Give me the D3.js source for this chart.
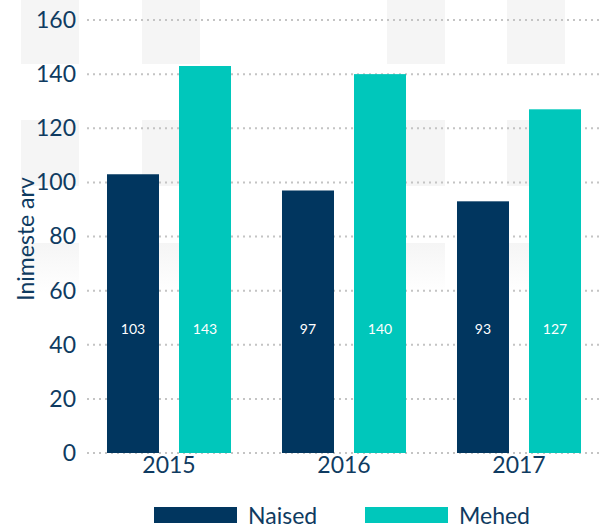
<!DOCTYPE html>
<html>
<head>
<meta charset="utf-8">
<script src="https://cdn.jsdelivr.net/npm/d3@7"></script>
<style>
  body { margin: 0; background: #fff; }
  text { font-family: Lato, "Open Sans", sans-serif; }
</style>
</head>
<body>
<div id="chart"></div>
<script>
// data
var years = ["2015", "2016", "2017"];
var series = ["Naised", "Mehed"];
var naised = [103, 97, 93];
var mehed = [143, 140, 127];
var yTicks = [0, 20, 40, 60, 80, 100, 120, 140, 160];
var colors = ["#01365f", "#00c7bb"];
var textColor = "#0f3b61";

var width = 601, height = 530;

var svg = d3.select("#chart")
  .append("svg")
    .attr("width", width)
    .attr("height", height);

// background checker squares (faint watermark)
var bgCols = [21, 142, 387, 507];
var bgRows = [{y: 0, h: 64, fade: false}, {y: 120, h: 66, fade: false}, {y: 243, h: 50, fade: true}];
var grad = svg.append("defs").append("linearGradient")
  .attr("id", "fade").attr("x1", 0).attr("y1", 0).attr("x2", 0).attr("y2", 1);
grad.append("stop").attr("offset", "0%").attr("stop-color", "#f5f5f5");
grad.append("stop").attr("offset", "100%").attr("stop-color", "#ffffff");
bgRows.forEach(function(r) {
  svg.selectAll(null)
    .data(bgCols)
    .enter()
    .append("rect")
      .attr("x", function(d) { return d; })
      .attr("y", r.y)
      .attr("width", 58)
      .attr("height", r.h)
      .attr("fill", r.fade ? "url(#fade)" : "#f5f5f5");
});

// scales
var y = d3.scaleLinear()
  .domain([0, 160])
  .range([453, 20]);

var x0 = d3.scaleBand()
  .domain(years)
  .range([81.5, 606.5])
  .paddingInner(0.2914)
  .paddingOuter(0.1457);

var x1 = d3.scaleBand()
  .domain(series)
  .range([0, x0.bandwidth()])
  .paddingInner(0.2778)
  .paddingOuter(0);

// grid lines
svg.selectAll("grid")
  .data(yTicks)
  .enter()
  .append("line")
    .attr("x1", 87)
    .attr("x2", width)
    .attr("y1", function(d) { return y(d); })
    .attr("y2", function(d) { return y(d); })
    .attr("stroke", "#c4c4c4")
    .attr("stroke-width", 2)
    .attr("stroke-dasharray", "2,4");

// Y axis
var yAxis = svg.append("g")
  .attr("transform", "translate(76,0)")
  .call(d3.axisLeft(y).tickValues(yTicks).tickSize(0).tickPadding(0));
yAxis.select(".domain").remove();
yAxis.selectAll("text")
  .attr("fill", textColor)
  .style("font-size", "23px")
  .style("font-family", "Lato");

// X axis
var xAxis = svg.append("g")
  .attr("transform", "translate(0,453)")
  .call(d3.axisBottom(x0).tickSize(0).tickPadding(4));
xAxis.select(".domain").remove();
xAxis.selectAll("text")
  .attr("fill", textColor)
  .style("font-size", "23px")
  .style("font-family", "Lato");

// bars
var rows = years.map(function(yr, i) {
  return {year: yr, values: [{key: "Naised", v: naised[i]}, {key: "Mehed", v: mehed[i]}]};
});

var groups = svg.selectAll("grp")
  .data(rows)
  .enter()
  .append("g")
    .attr("transform", function(d) { return "translate(" + x0(d.year) + ",0)"; });

groups.selectAll("rect")
  .data(function(d) { return d.values; })
  .enter()
  .append("rect")
    .attr("x", function(d) { return x1(d.key); })
    .attr("y", function(d) { return y(d.v); })
    .attr("width", x1.bandwidth())
    .attr("height", function(d) { return y(0) - y(d.v); })
    .attr("fill", function(d, i) { return colors[i]; });

groups.selectAll("lbl")
  .data(function(d) { return d.values; })
  .enter()
  .append("text")
    .attr("x", function(d) { return x1(d.key) + x1.bandwidth() / 2; })
    .attr("y", 334)
    .attr("text-anchor", "middle")
    .attr("fill", "#fff")
    .style("font-size", "14px")
    .text(function(d) { return d.v; });

// Y axis title
svg.append("text")
  .attr("transform", "translate(34,239) rotate(-90)")
  .attr("text-anchor", "middle")
  .attr("fill", textColor)
  .style("font-size", "23px")
  .text("Inimeste arv");

// legend
var legendX = [154, 365];
var legend = svg.selectAll("leg")
  .data(series)
  .enter()
  .append("g")
    .attr("transform", function(d, i) { return "translate(" + legendX[i] + ",507)"; });
legend.append("rect")
  .attr("width", 83)
  .attr("height", 16)
  .attr("fill", function(d, i) { return colors[i]; });
legend.append("text")
  .attr("x", 94)
  .attr("y", 17)
  .attr("fill", textColor)
  .style("font-size", "23px")
  .text(function(d) { return d; });
</script>
</body>
</html>
